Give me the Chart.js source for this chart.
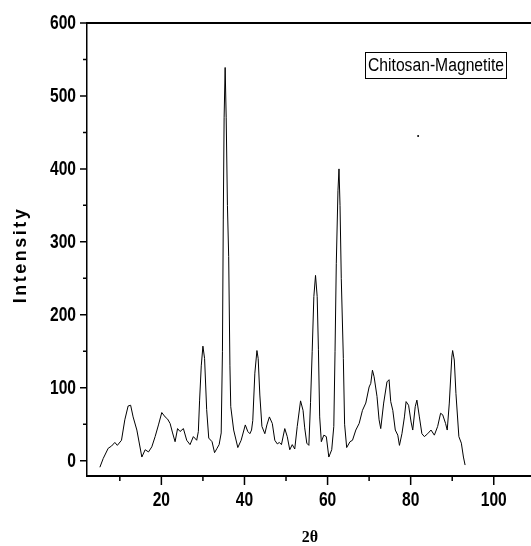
<!DOCTYPE html>
<html>
<head>
<meta charset="utf-8">
<script src="https://cdn.jsdelivr.net/npm/chart.js@4.4.1/dist/chart.umd.min.js"></script>
<style>
  body { margin: 0; background: #fff; }
  canvas { display: block; }
</style>
</head>
<body>
<canvas id="xrdChart" width="531" height="546"></canvas>
<script>
// 2-theta positions and intensities
let twoTheta = [
    5.2, 6.0, 7.2, 8.0, 8.8, 9.4, 10.4, 11.2, 12.0, 12.6, 13.2, 14.1, 15.3, 16.1, 16.9, 17.7,
    18.5, 19.3, 20.1, 20.9, 21.5, 22.1, 22.7, 23.3, 23.9, 24.5, 25.3, 26.1, 26.9, 27.7, 28.5, 28.9,
    29.2, 29.6, 30.0, 30.4, 30.9, 31.4, 32.2, 32.8, 33.4, 33.9, 34.4, 34.7, 34.9, 35.1, 35.35, 35.6,
    35.9, 36.2, 36.5, 36.7, 37.4, 38.4, 39.2, 40.2, 40.8, 41.3, 41.7, 42.0, 42.5, 43.0, 43.3, 43.7,
    44.2, 44.9, 45.4, 46.0, 46.7, 47.3, 47.9, 48.4, 48.9, 49.7, 50.3, 50.9, 51.5, 52.1, 52.7, 53.5,
    54.1, 54.5, 55.0, 55.5, 55.9, 56.3, 56.7, 57.1, 57.5, 57.8, 58.1, 58.5, 59.1, 59.7, 60.3, 61.0,
    61.5, 61.8, 62.1, 62.5, 62.75, 63.0, 63.3, 63.8, 64.1, 64.6, 65.4, 66.0, 66.8, 67.6, 68.4, 69.2,
    70.0, 70.4, 70.8, 71.2, 71.9, 72.4, 72.8, 73.5, 74.3, 74.8, 75.2, 75.7, 76.3, 76.9, 77.3, 77.9,
    78.5, 78.9, 79.5, 80.1, 80.5, 81.1, 81.5, 82.1, 82.7, 83.3, 84.1, 84.9, 85.7, 86.5, 87.2, 87.7,
    88.4, 88.8, 89.3, 89.9, 90.1, 90.5, 90.9, 91.6, 92.2, 92.7, 93.1
];
let intensity = [
    -9, 3, 17, 20, 25, 21, 28, 56, 75, 76, 60, 42, 5, 15, 12, 19,
    33, 49, 66, 60, 57, 51, 38, 26, 44, 40, 44, 28, 22, 33, 28, 40,
    83, 130, 157, 140, 70, 31, 26, 11, 17, 22, 38, 150, 330, 470, 539, 470,
    350, 280, 130, 74, 42, 18, 28, 49, 40, 37, 42, 55, 120, 151, 140, 90,
    47, 37, 49, 60, 51, 28, 23, 25, 22, 44, 33, 15, 22, 16, 47, 82,
    69, 45, 24, 21, 80, 150, 225, 254, 225, 152, 60, 26, 35, 33, 5, 15,
    47, 150, 270, 370, 400, 350, 250, 140, 50, 18, 26, 28, 42, 51, 69, 79,
    101, 106, 124, 115, 88, 56, 44, 79, 108, 111, 81, 69, 42, 35, 21, 37,
    60, 81, 76, 53, 42, 74, 83, 60, 37, 33, 37, 42, 35, 47, 65, 63,
    51, 42, 79, 142, 151, 138, 92, 33, 24, 5, -6
];
// stray dot above the pattern
let strayX = [81.8];
let strayY = [445];

let xMajor = [20, 40, 60, 80, 100];
let xMinor = [10, 30, 50, 70, 90];
let yMajor = [0, 100, 200, 300, 400, 500, 600];
let yMinor = [50, 150, 250, 350, 450, 550];

let sampleLabel = 'Chitosan-Magnetite';
let xTitle = '2θ';
let yTitle = 'Intensity';

// draws text squeezed horizontally, like the narrow font of the original
function narrowText(ctx, text, x, y, align, squeeze) {
    ctx.save();
    ctx.translate(x, y);
    ctx.scale(squeeze, 1);
    ctx.textAlign = align;
    ctx.fillText(text, 0, 0);
    ctx.restore();
}

const decorations = {
    id: 'decorations',
    afterDraw(chart) {
        const ctx = chart.ctx;
        const xs = chart.scales.x, ys = chart.scales.y;
        const area = chart.chartArea;
        ctx.save();
        ctx.strokeStyle = '#000';
        ctx.fillStyle = '#000';
        // tick marks, outward
        ctx.lineWidth = 1.5;
        ctx.beginPath();
        xMajor.forEach(v => { const p = xs.getPixelForValue(v); ctx.moveTo(p, area.bottom); ctx.lineTo(p, area.bottom + 9); });
        xMinor.forEach(v => { const p = xs.getPixelForValue(v); ctx.moveTo(p, area.bottom); ctx.lineTo(p, area.bottom + 5); });
        yMajor.forEach(v => { const p = ys.getPixelForValue(v); ctx.moveTo(area.left, p); ctx.lineTo(area.left - 7, p); });
        yMinor.forEach(v => { const p = ys.getPixelForValue(v); ctx.moveTo(area.left, p); ctx.lineTo(area.left - 4, p); });
        ctx.stroke();
        // tick labels
        ctx.font = 'bold 19.5px "Liberation Sans", Arial, sans-serif';
        ctx.textBaseline = 'middle';
        xMajor.forEach(v => narrowText(ctx, String(v), xs.getPixelForValue(v), area.bottom + 25, 'center', 0.8));
        yMajor.forEach(v => narrowText(ctx, String(v), area.left - 11, ys.getPixelForValue(v) + 1, 'right', 0.8));
        // top frame line and bottom axis run to the right edge
        ctx.lineWidth = 2;
        ctx.beginPath();
        ctx.moveTo(area.left, area.top);
        ctx.lineTo(chart.width, area.top);
        ctx.moveTo(area.left, area.bottom);
        ctx.lineTo(chart.width, area.bottom);
        ctx.stroke();
        // axis titles
        ctx.textAlign = 'center';
        ctx.font = 'bold 16px "Liberation Serif", serif';
        ctx.fillText(xTitle, 310, 538);
        ctx.save();
        ctx.translate(21, 255);
        ctx.rotate(-Math.PI / 2);
        ctx.font = 'bold 18px "Liberation Sans", Arial, sans-serif';
        ctx.letterSpacing = '2.5px';
        ctx.fillText(yTitle, 0, 0);
        ctx.restore();
        // sample label box
        ctx.lineWidth = 1;
        ctx.strokeRect(365.5, 52.5, 141, 26);
        ctx.font = '18px "Liberation Sans", Arial, sans-serif';
        const w = ctx.measureText(sampleLabel).width;
        narrowText(ctx, sampleLabel, 436, 66, 'center', 136 / w);
        ctx.restore();
    }
};

new Chart(document.getElementById('xrdChart'), {
    type: 'scatter',
    data: {
        datasets: [
            {
                label: sampleLabel,
                data: twoTheta.map((x, i) => ({ x: x, y: intensity[i] })),
                showLine: true,
                borderColor: '#000',
                borderWidth: 1,
                pointRadius: 0,
                tension: 0
            },
            {
                label: 'stray',
                data: strayX.map((x, i) => ({ x: x, y: strayY[i] })),
                pointRadius: 1,
                backgroundColor: '#000',
                borderWidth: 0
            }
        ]
    },
    options: {
        responsive: false,
        animation: false,
        layout: { padding: { top: 23, right: 0, left: 0, bottom: 0 } },
        plugins: { legend: { display: false }, tooltip: { enabled: false } },
        scales: {
            x: {
                type: 'linear',
                min: 2.1,
                max: 108.0,
                grid: { display: false, drawTicks: false },
                border: { display: true, color: '#000', width: 2 },
                ticks: { display: false, stepSize: 10 },
                afterFit: s => { s.height = 70; }
            },
            y: {
                type: 'linear',
                min: -21,
                max: 600,
                grid: { display: false, drawTicks: false },
                border: { display: true, color: '#000', width: 1.5 },
                ticks: { display: false, stepSize: 100 },
                afterFit: s => { s.width = 87; }
            }
        }
    },
    plugins: [decorations]
});
</script>
</body>
</html>
